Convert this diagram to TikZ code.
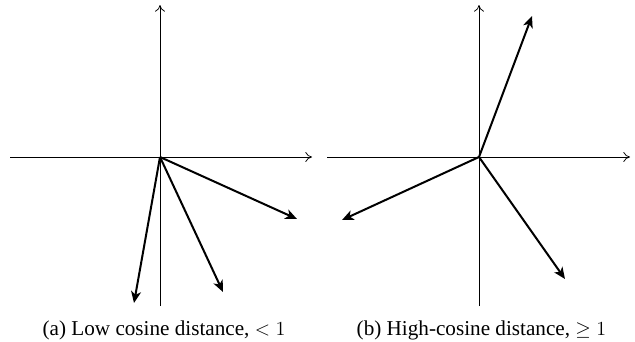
\documentclass[tikz,border=0pt]{standalone}
\usepackage{fontspec}
\setmainfont{Liberation Serif}
\usetikzlibrary{arrows.meta}
\begin{document}
\begin{tikzpicture}[x=0.6pt,y=-0.6pt,
  axis/.style={line width=0.45pt,-{To[length=4pt,width=6pt]}},
  vec/.style={line width=1.2pt,-{Stealth[length=7pt,width=6pt,inset=2pt]}},
  captext/.style={font=\fontsize{12.7}{15}\selectfont,inner sep=0pt,anchor=base}]
\useasboundingbox (0,0) rectangle (635,341);
% left panel
\coordinate (L0) at (160,157);
\coordinate (Lw) at (10,157);
\coordinate (Le) at (312,157);
\coordinate (Ln) at (160,5);
\coordinate (Ls) at (160,306);
\draw[axis] (Lw) -- (Le);
\draw[axis] (Ls) -- (Ln);
\coordinate (La) at (134,303);
\coordinate (Lb) at (223,292);
\coordinate (Lc) at (297,219);
\draw[vec] (L0) -- (La);
\draw[vec] (L0) -- (Lb);
\draw[vec] (L0) -- (Lc);
\node[captext] (capa) at (164,335) {(a) Low cosine distance, $<1$};
% right panel
\coordinate (R0) at (479,157);
\coordinate (Rw) at (327,157);
\coordinate (Re) at (630,157);
\coordinate (Rn) at (479,5);
\coordinate (Rs) at (479,306);
\draw[axis] (Rw) -- (Re);
\draw[axis] (Rs) -- (Rn);
\coordinate (Ra) at (532,16);
\coordinate (Rb) at (342,220);
\coordinate (Rc) at (565,279);
\draw[vec] (R0) -- (Ra);
\draw[vec] (R0) -- (Rb);
\draw[vec] (R0) -- (Rc);
\node[captext] (capb) at (481.5,335) {(b) High-cosine distance, $\geq 1$};
\end{tikzpicture}
\end{document}
